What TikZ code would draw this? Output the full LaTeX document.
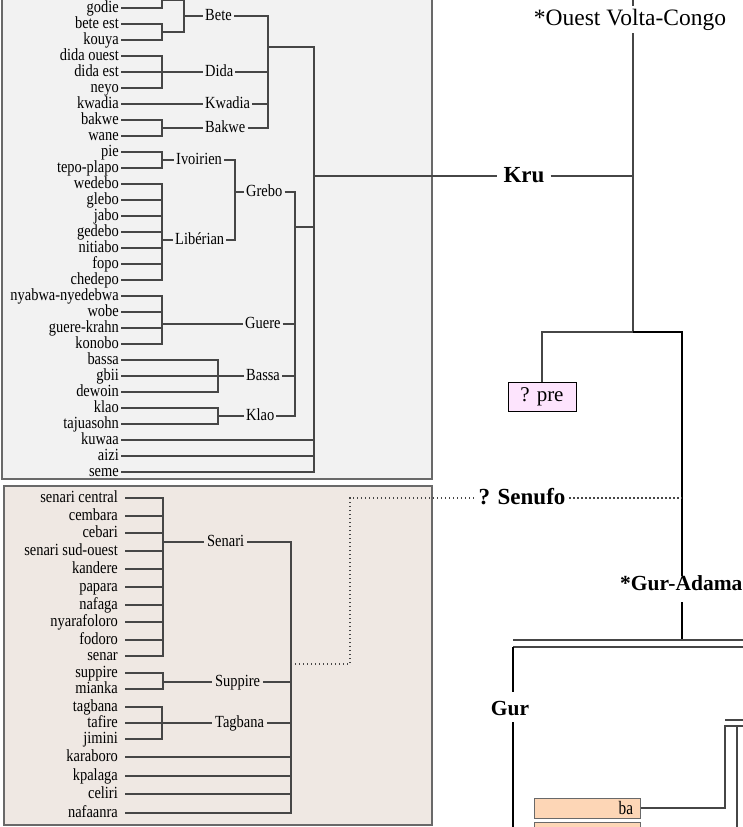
\documentclass[tikz,border=0pt]{standalone}
\usepackage{fontspec}
\setmainfont{Liberation Serif}
\newfontfamily\narrowfont{Liberation Serif}[FakeStretch=0.85]
\newfontfamily\bafont{Liberation Serif}[FakeStretch=0.8]
\usetikzlibrary{calc, positioning}

\definecolor{krubox}{RGB}{242,242,242}
\definecolor{senbox}{RGB}{239,232,227}
\definecolor{boxline}{RGB}{105,105,105}
\definecolor{linkgray}{RGB}{70,70,70}
\definecolor{prefill}{RGB}{253,228,253}
\definecolor{bafill}{RGB}{253,214,182}

\tikzset{
    leaf/.style={anchor=east, inner xsep=2pt, inner ysep=0pt, text height=9.5pt,
        text depth=0.5pt, font=\narrowfont\fontsize{17}{18}\selectfont},
    leafb/.style={leaf, inner xsep=7pt},
    group/.style={leaf, anchor=west},
    groupb/.style={group, inner xsep=3pt},
    clade/.style={inner xsep=6pt, inner ysep=0pt, text height=13pt, text depth=1pt,
        font=\bfseries\fontsize{23}{25}\selectfont},
    link/.style={draw=linkgray, line width=1.1pt},
    dotlink/.style={link, dash pattern=on 1.4pt off 2.6pt},
    prebox/.style={draw=black, line width=0.8pt, fill=prefill, minimum width=68pt,
        minimum height=29pt, inner sep=0pt, font=\fontsize{21}{23}\selectfont},
    babox/.style={draw=boxline, line width=1pt, fill=bafill, minimum height=20pt,
        text width=92pt, align=right, inner xsep=7pt, inner ysep=0pt,
        font=\bafont\fontsize{19}{20}\selectfont}
}

\begin{document}
\begin{tikzpicture}[x=1pt, y=-1pt]
        \useasboundingbox (0,0) rectangle (743,827);
        \clip (0,0) rectangle (743,827);

        % the two boxes
        \draw[draw=boxline, line width=1.5pt, fill=krubox] (2,-5) rectangle (432,479);
        \draw[draw=boxline, line width=1.5pt, fill=senbox] (4,486) rectangle (432,825);

        % Kru languages
        \node[leaf] (godie) at (121,8) {godie};
        \node[leaf] (beteest) at (121,24) {bete est};
        \node[leaf] (kouya) at (121,40) {kouya};
        \node[leaf] (didaouest) at (121,56) {dida ouest};
        \node[leaf] (didaest) at (121,72) {dida est};
        \node[leaf] (neyo) at (121,88) {neyo};
        \node[leaf] (kwadia) at (121,104) {kwadia};
        \node[leaf] (bakwe) at (121,120) {bakwe};
        \node[leaf] (wane) at (121,136) {wane};
        \node[leaf] (pie) at (121,152) {pie};
        \node[leaf] (tepoplapo) at (121,168) {tepo-plapo};
        \node[leaf] (wedebo) at (121,184) {wedebo};
        \node[leaf] (glebo) at (121,200) {glebo};
        \node[leaf] (jabo) at (121,216) {jabo};
        \node[leaf] (gedebo) at (121,232) {gedebo};
        \node[leaf] (nitiabo) at (121,248) {nitiabo};
        \node[leaf] (fopo) at (121,264) {fopo};
        \node[leaf] (chedepo) at (121,280) {chedepo};
        \node[leaf] (nyabwa) at (121,296) {nyabwa-nyedebwa};
        \node[leaf] (wobe) at (121,312) {wobe};
        \node[leaf] (guerekrahn) at (121,328) {guere-krahn};
        \node[leaf] (konobo) at (121,344) {konobo};
        \node[leaf] (bassa) at (121,360) {bassa};
        \node[leaf] (gbii) at (121,376) {gbii};
        \node[leaf] (dewoin) at (121,392) {dewoin};
        \node[leaf] (klao) at (121,408) {klao};
        \node[leaf] (tajuasohn) at (121,424) {tajuasohn};
        \node[leaf] (kuwaa) at (121,440) {kuwaa};
        \node[leaf] (aizi) at (121,456) {aizi};
        \node[leaf] (seme) at (121,472) {seme};

        \node[group] (gBete) at (203,16) {Bete};
        \node[group] (gDida) at (203,72) {Dida};
        \node[group] (gKwadia) at (203,104) {Kwadia};
        \node[group] (gBakwe) at (203,128) {Bakwe};
        \node[group] (gIvoirien) at (174,160) {Ivoirien};
        \node[group] (gLiberian) at (173,240) {Libérian};
        \node[group] (gGrebo) at (244,192) {Grebo};
        \node[group] (gGuere) at (243,324) {Guere};
        \node[group] (gBassa) at (244,376) {Bassa};
        \node[group] (gKlao) at (244,416) {Klao};

        \coordinate (jBeteW) at (162,0);
        \coordinate (jBeteE) at (162,32);
        \coordinate (jBete) at (184,16);
        \coordinate (jDida) at (162,72);
        \coordinate (jBakwe) at (162,128);
        \coordinate (jKruE) at (268,47);
        \coordinate (jIvoirien) at (162,160);
        \coordinate (jLiberian) at (162,240);
        \coordinate (jGrebo) at (235,192);
        \coordinate (jGuere) at (162,324);
        \coordinate (jBassa) at (218,376);
        \coordinate (jKlao) at (218,416);
        \coordinate (jKruW) at (295,227);
        \coordinate (jKru) at (314,176);

        \draw[link] (godie.east) -| (jBeteW) -- ++(0,-12);
        \draw[link] (beteest.east) -| (jBeteE) (kouya.east) -| (jBeteE);
        \draw[link] (jBeteW) -| (jBete) (jBeteE) -| (jBete) (jBete) -- (gBete.west);
        \draw[link] (didaouest.east) -| (jDida) (didaest.east) -- (gDida.west)
            (neyo.east) -| (jDida);
        \draw[link] (kwadia.east) -- (gKwadia.west);
        \draw[link] (bakwe.east) -| (jBakwe) (wane.east) -| (jBakwe)
            (jBakwe) -- (gBakwe.west);
        \draw[link] (gBete.east) -| (jKruE) (gDida.east) -| (jKruE)
            (gKwadia.east) -| (jKruE) (gBakwe.east) -| (jKruE);

        \draw[link] (pie.east) -| (jIvoirien) (tepoplapo.east) -| (jIvoirien)
            (jIvoirien) -- (gIvoirien.west);
        \draw[link] (wedebo.east) -| (jLiberian) (glebo.east) -| (jLiberian)
            (jabo.east) -| (jLiberian) (gedebo.east) -| (jLiberian)
            (nitiabo.east) -| (jLiberian) (fopo.east) -| (jLiberian)
            (chedepo.east) -| (jLiberian) (jLiberian) -- (gLiberian.west);
        \draw[link] (gIvoirien.east) -| (jGrebo) (gLiberian.east) -| (jGrebo)
            (jGrebo) -- (gGrebo.west);
        \draw[link] (nyabwa.east) -| (jGuere) (wobe.east) -| (jGuere)
            (guerekrahn.east) -| (jGuere) (konobo.east) -| (jGuere)
            (jGuere) -- (gGuere.west);
        \draw[link] (bassa.east) -| (jBassa) (gbii.east) -- (gBassa.west)
            (dewoin.east) -| (jBassa);
        \draw[link] (klao.east) -| (jKlao) (tajuasohn.east) -| (jKlao)
            (jKlao) -- (gKlao.west);
        \draw[link] (gGrebo.east) -| (jKruW) (gGuere.east) -| (jKruW)
            (gBassa.east) -| (jKruW) (gKlao.east) -| (jKruW);

        \draw[link] (jKruE) -| (jKru) (jKruW) -| (jKru);
        \draw[link] (kuwaa.east) -| (jKru) (aizi.east) -| (jKru) (seme.east) -| (jKru);

        % Senufo languages
        \node[leafb] (senaricentral) at (125,498) {senari central};
        \node[leafb] (cembara) at (125,516) {cembara};
        \node[leafb] (cebari) at (125,533) {cebari};
        \node[leafb] (senarisudouest) at (125,551) {senari sud-ouest};
        \node[leafb] (kandere) at (125,569) {kandere};
        \node[leafb] (papara) at (125,587) {papara};
        \node[leafb] (nafaga) at (125,605) {nafaga};
        \node[leafb] (nyarafoloro) at (125,622) {nyarafoloro};
        \node[leafb] (fodoro) at (125,640) {fodoro};
        \node[leafb] (senar) at (125,656) {senar};
        \node[leafb] (suppire) at (125,673) {suppire};
        \node[leafb] (mianka) at (125,689) {mianka};
        \node[leafb] (tagbana) at (125,707) {tagbana};
        \node[leafb] (tafire) at (125,723) {tafire};
        \node[leafb] (jimini) at (125,739) {jimini};
        \node[leafb] (karaboro) at (125,757) {karaboro};
        \node[leafb] (kpalaga) at (125,776) {kpalaga};
        \node[leafb] (celiri) at (125,794) {celiri};
        \node[leafb] (nafaanra) at (125,813) {nafaanra};

        \node[groupb] (gSenari) at (204,542) {Senari};
        \node[groupb] (gSuppire) at (212,682) {Suppire};
        \node[groupb] (gTagbana) at (212,723) {Tagbana};

        \coordinate (jSenari) at (163,542);
        \coordinate (jSuppire) at (163,682);
        \coordinate (jTagbana) at (162,723);
        \coordinate (jSenufo) at (291,664);
        \coordinate (jSenufoK) at (350,498);

        \draw[link] (senaricentral.east) -| (jSenari) (cembara.east) -| (jSenari)
            (cebari.east) -| (jSenari) (senarisudouest.east) -| (jSenari)
            (kandere.east) -| (jSenari) (papara.east) -| (jSenari)
            (nafaga.east) -| (jSenari) (nyarafoloro.east) -| (jSenari)
            (fodoro.east) -| (jSenari) (senar.east) -| (jSenari)
            (jSenari) -- (gSenari.west);
        \draw[link] (suppire.east) -| (jSuppire) (mianka.east) -| (jSuppire)
            (jSuppire) -- (gSuppire.west);
        \draw[link] (tagbana.east) -| (jTagbana) (tafire.east) -- (gTagbana.west)
            (jimini.east) -| (jTagbana);
        \draw[link] (gSenari.east) -| (jSenufo) (gSuppire.east) -| (jSenufo)
            (gTagbana.east) -| (jSenufo) (karaboro.east) -| (jSenufo)
            (kpalaga.east) -| (jSenufo) (celiri.east) -| (jSenufo)
            (nafaanra.east) -| (jSenufo);

        % upper tree
        \node[font=\fontsize{23.5}{26}\selectfont, anchor=base, inner sep=3pt,
            text height=16pt, text depth=5pt] (OVC) at (630,25) {*Ouest Volta-Congo};
        \node[clade] (Kru) at (524,176) {Kru};
        \node[prebox] (pre) at (542,396.5) {? pre};
        \node[clade, inner xsep=3.5pt] (Senufo) at (522,498) {? Senufo};
        \node[clade, anchor=base west, inner xsep=0pt, inner ysep=1pt, text height=13pt,
            text depth=11pt, font=\bfseries\fontsize{21.5}{24}\selectfont]
            (GurAd) at (620,590) {*Gur-Adama};
        \node[clade, anchor=base, inner ysep=2pt, text height=21pt, text depth=5pt,
            font=\bfseries\fontsize{21.5}{24}\selectfont] (Gur) at (510,715) {Gur};
        \node[babox] (ba) at (587,808) {ba};
        \node[babox] (ba2) at (587,832) {};

        \coordinate (jOVC) at (633,332);
        \coordinate (jSen) at (682,498);
        \coordinate (jGur) at (682,640);

        \draw[link] (jKru) -- (Kru.west);
        \draw[link] (Kru.east) -| (jOVC);
        \draw[link] (OVC.south -| jOVC) -- (jOVC);
        \draw[link] (OVC.north -| jOVC) -- ++(0,-10);
        \draw[link] (pre.north) |- (jOVC);
        \draw[link, draw=black] (jOVC) -| (jSen) -- (jSen |- GurAd.north);
        \draw[link, draw=black] (jSen |- GurAd.south) -- (jGur);

        \draw[dotlink] (jSenufo) -| (jSenufoK) -- (Senufo.west);
        \draw[dotlink] (Senufo.east) -- (jSen);

        % Gur
        \coordinate (gA) at (513,640);
        \coordinate (gB) at (750,640);
        \coordinate (gC) at (513,647);
        \coordinate (gD) at (750,647);
        \coordinate (gE) at (513,840);
        \draw[link] (gA) -- (gB);
        \draw[link] (gD) -- (gC);
        \draw[link, draw=black] (gC) -- (gC |- Gur.north);
        \draw[link, draw=black] (gC |- Gur.south) -- (gE);

        \coordinate (hA) at (725,720);
        \coordinate (hB) at (750,720);
        \coordinate (hC) at (725,726);
        \coordinate (hD) at (750,726);
        \coordinate (hE) at (737,726);
        \coordinate (hF) at (737,840);
        \draw[link] (hA) -- (hB);
        \draw[link] (hD) -- (hC) |- (ba.east);
        \draw[link] (hE) -- (hF);
\end{tikzpicture}
\end{document}
